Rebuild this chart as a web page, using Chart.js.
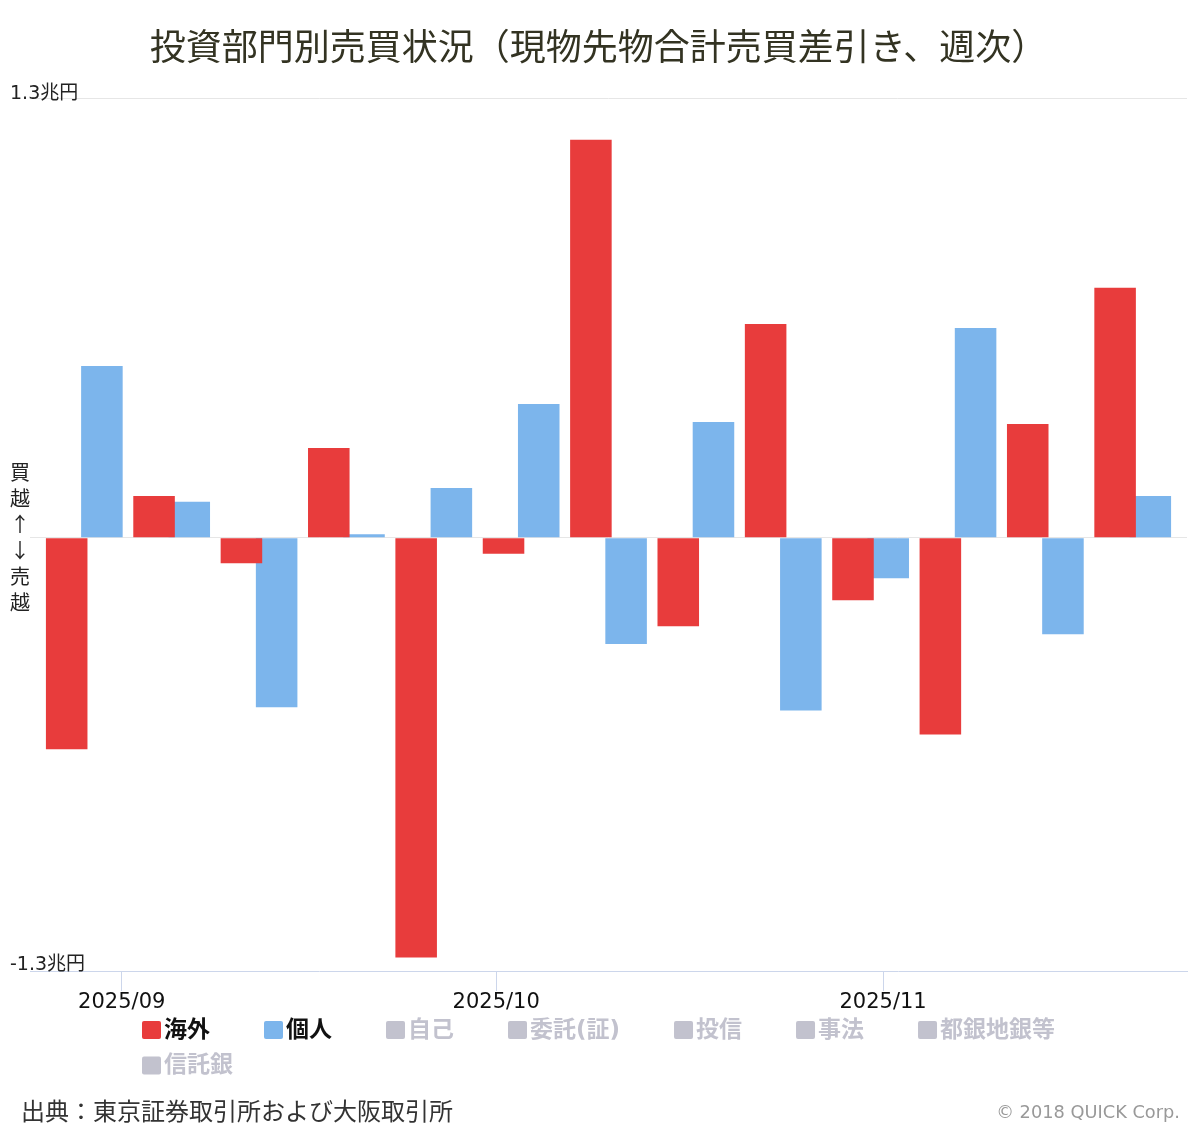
<!DOCTYPE html>
<html lang="ja">
<head>
<meta charset="utf-8">
<title>投資部門別売買状況</title>
<script src="https://cdn.jsdelivr.net/npm/chart.js@4.4.1/dist/chart.umd.min.js"></script>
<style>
  html, body { margin: 0; padding: 0; background: #fff; }
  #wrap { width: 1200px; height: 1130px; position: relative; }
</style>
</head>
<body>
<div id="wrap"><canvas id="myChart"></canvas></div>
<script>
// weekly net buying (week ending), 兆円
const weeks = [
  '2025/08/29', '2025/09/05', '2025/09/12', '2025/09/19', '2025/09/26',
  '2025/10/03', '2025/10/10', '2025/10/17', '2025/10/24', '2025/10/31',
  '2025/11/07', '2025/11/14', '2025/11/21'
];
const overseas = [-0.626, 0.123, -0.076, 0.265, -1.242, -0.048, 1.177, -0.262, 0.632, -0.185, -0.582, 0.336, 0.739];
const individuals = [0.508, 0.106, -0.502, 0.010, 0.147, 0.395, -0.315, 0.342, -0.511, -0.120, 0.620, -0.286, 0.123];

// series switched off in the legend
const hiddenGroups = ['自己', '委託(証)', '投信', '事法', '都銀地銀等', '信託銀'];

const monthTicks = ['2025/09/01', '2025/10/01', '2025/11/01'];
const xTickLabels = ['2025/09', '2025/10', '2025/11'];
const yTickLabels = ['-1.3兆円', '', '1.3兆円'];
const zeroLabel = ['買', '越', '↑', '↓', '売', '越'];

const yMin = -1.282;
const yMax = 1.3;
const xPadDays = 4.35;

const RED = '#e83c3c';
const BLUE = '#7cb5ec';
const GRAY = '#c2c2ce';
const LATIN = "'DejaVu Sans', 'Noto Sans CJK JP', sans-serif";
const CJK = "'Noto Sans CJK JP', sans-serif";

function dayNum(s) {
  const p = s.split('/');
  return Date.UTC(+p[0], +p[1] - 1, +p[2]) / 86400000;
}
const xs = weeks.map(dayNum);

const datasets = [
  { label: '海外', data: xs.map((x, i) => ({ x: x, y: overseas[i] })), backgroundColor: RED },
  { label: '個人', data: xs.map((x, i) => ({ x: x, y: individuals[i] })), backgroundColor: BLUE }
].concat(hiddenGroups.map(name => ({ label: name, data: [], hidden: true, backgroundColor: GRAY })));

// legend drawn under the axis, rows left aligned like the original
const legendBlock = {
  id: 'legendBlock',
  afterDraw(chart) {
    const ctx = chart.ctx;
    ctx.save();
    ctx.font = 'bold 23px ' + LATIN;
    ctx.textBaseline = 'middle';
    let x = 142;
    let y = 1030;
    chart.data.datasets.forEach((ds, i) => {
      const on = chart.isDatasetVisible(i);
      const w = 22 + ctx.measureText(ds.label).width;
      if (x + w > 1180) {
        x = 142;
        y += 35.5;
      }
      ctx.fillStyle = on ? ds.backgroundColor : GRAY;
      ctx.beginPath();
      ctx.roundRect(x, y - 9, 19, 18, 2);
      ctx.fill();
      ctx.fillStyle = on ? '#111' : GRAY;
      ctx.fillText(ds.label, x + 22, y + 1);
      x += w + 54;
    });
    ctx.restore();
  }
};

const footer = {
  id: 'footer',
  afterDraw(chart) {
    const ctx = chart.ctx;
    ctx.save();
    ctx.textBaseline = 'middle';
    ctx.font = '24px ' + CJK;
    ctx.fillStyle = '#333';
    ctx.textAlign = 'left';
    ctx.fillText('出典：東京証券取引所および大阪取引所', 21, 1111);
    ctx.font = '17.8px ' + LATIN;
    ctx.fillStyle = '#999';
    ctx.textAlign = 'right';
    ctx.fillText('© 2018 QUICK Corp.', 1180, 1113);
    ctx.restore();
  }
};

const config = {
  type: 'bar',
  data: { datasets: datasets },
  options: {
    responsive: true,
    maintainAspectRatio: false,
    animation: false,
    layout: { padding: { left: 10, right: 13, top: 0, bottom: 109 } },
    datasets: { bar: { categoryPercentage: 0.806, barPercentage: 1.18 } },
    plugins: {
      legend: { display: false },
      tooltip: { enabled: false },
      title: {
        display: true,
        text: '投資部門別売買状況（現物先物合計売買差引き、週次）',
        color: '#333322',
        font: { family: CJK, size: 36, weight: 'normal', lineHeight: 1.2 },
        padding: { top: 25, bottom: 30 }
      }
    },
    scales: {
      x: {
        type: 'linear',
        min: xs[0] - xPadDays,
        max: xs[xs.length - 1] + xPadDays,
        offset: false,
        afterBuildTicks: s => { s.ticks = monthTicks.map(d => ({ value: dayNum(d) })); },
        afterFit: s => { s.height = 50; },
        border: { color: '#ccd6eb', width: 1 },
        grid: { drawOnChartArea: false, offset: false, tickLength: 20, color: '#ccd6eb', tickWidth: 1 },
        ticks: {
          autoSkip: false,
          maxRotation: 0,
          padding: 1,
          color: '#111',
          font: { family: LATIN, size: 21, lineHeight: 1 },
          callback: (v, i) => xTickLabels[i]
        }
      },
      y: {
        min: yMin,
        max: yMax,
        afterBuildTicks: s => { s.ticks = [yMin, 0, yMax].map(v => ({ value: v })); },
        afterFit: s => { s.width = 20; },
        border: { display: false },
        grid: {
          drawTicks: false,
          lineWidth: 1,
          color: c => (c.tick && c.tick.value === yMin) ? 'rgba(0,0,0,0)' : '#e6e6e6'
        },
        ticks: {
          autoSkip: false,
          mirror: true,
          crossAlign: 'near',
          padding: -20,
          color: '#222',
          // the blank second line lifts the end labels just above their lines
          callback: (v, i) => i === 1 ? zeroLabel : [yTickLabels[i], ''],
          font: c => {
            const v = c.tick ? c.tick.value : 0;
            if (v === 0) return { family: CJK, size: 20, lineHeight: '26px' };
            return { family: LATIN, size: 19, lineHeight: v > 0 ? '8px' : '12px' };
          }
        }
      }
    }
  },
  plugins: [legendBlock, footer]
};

const myChart = new Chart(document.getElementById('myChart'), config);
</script>
</body>
</html>
